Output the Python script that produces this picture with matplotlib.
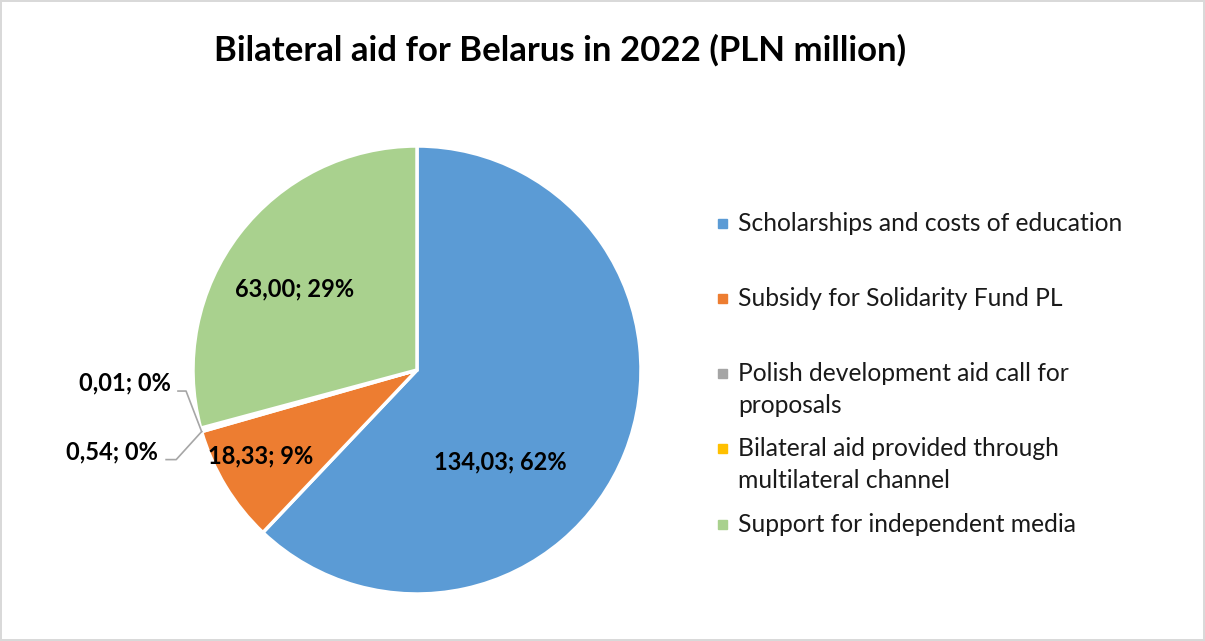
import numpy as np
import matplotlib.pyplot as plt
from matplotlib.patches import Rectangle

plt.rcParams['font.family'] = ['Lato', 'DejaVu Sans']

title = 'Bilateral aid for Belarus in 2022 (PLN million)'
categories = ['Scholarships and costs of education',
              'Subsidy for Solidarity Fund PL',
              'Polish development aid call for\nproposals',
              'Bilateral aid provided through\nmultilateral channel',
              'Support for independent media']
values = [134.03, 18.33, 0.54, 0.01, 63.00]
percents = [62, 9, 0, 0, 29]
colors = ['#5B9BD5', '#ED7D31', '#A5A5A5', '#FFC000', '#A9D18E']

W, H = 1205, 641
fig = plt.figure(figsize=(W / 100, H / 100), dpi=100)
fig.patch.set_edgecolor('#D9D9D9')
fig.patch.set_linewidth(1.5)

# pie axes: centre (417, 370) px, radius 224 px
cx, cy, r = 417, 370, 224
ax = fig.add_axes([(cx - r) / W, (H - cy - r) / H, 2 * r / W, 2 * r / H])
wedges, _ = ax.pie(values, colors=colors, startangle=90, counterclock=False,
                   radius=1, wedgeprops=dict(edgecolor='white', linewidth=2.5))
ax.set_xlim(-1, 1)
ax.set_ylim(-1, 1)
ax.set_aspect('equal')
ax.axis('off')

labels = [f"{v:.2f}".replace('.', ',') + f"; {p}%" for v, p in zip(values, percents)]
lab_kw = dict(fontsize=17, fontweight='bold', color='black', clip_on=False)

# labels inside slices
ax.text(0.37, -0.41, labels[0], ha='center', va='center', **lab_kw)
ax.text(-0.70, -0.385, labels[1], ha='center', va='center', **lab_kw)
ax.text(-0.545, 0.36, labels[4], ha='center', va='center', **lab_kw)

# outside labels with leader lines for the tiny slices
th = np.deg2rad(wedges[2].theta2)
px, py = np.cos(th), np.sin(th)
ax.text(-1.10, -0.058, labels[3], ha='right', va='center', **lab_kw)
ax.plot([-1.067, -1.031, px, px], [-0.094, -0.094, py, py], color='#A6A6A6', lw=1.2, clip_on=False)
ax.text(-1.155, -0.366, labels[2], ha='right', va='center', **lab_kw)
ax.plot([-1.12, -1.075, px], [-0.40, -0.40, py], color='#A6A6A6', lw=1.2, clip_on=False)

fig.text(560 / W, 1 - 50 / H, title, ha='center', va='center', fontsize=25, fontweight='bold')

# legend drawn by hand so that the marker sits on the first line
y0, step, line_gap = 223, 75.3, 32
for i, (name, c) in enumerate(zip(categories, colors)):
    y = y0 + step * i
    fig.patches.append(Rectangle(((722 - 4.5) / W, 1 - (y + 4.5) / H), 9 / W, 9 / H,
                                 transform=fig.transFigure, color=c))
    for j, line in enumerate(name.split('\n')):
        fig.text(738 / W, 1 - (y + j * line_gap) / H, line, ha='left', va='center',
                 fontsize=17.7, color='#1a1a1a')

fig.savefig('out.png', dpi=100)
